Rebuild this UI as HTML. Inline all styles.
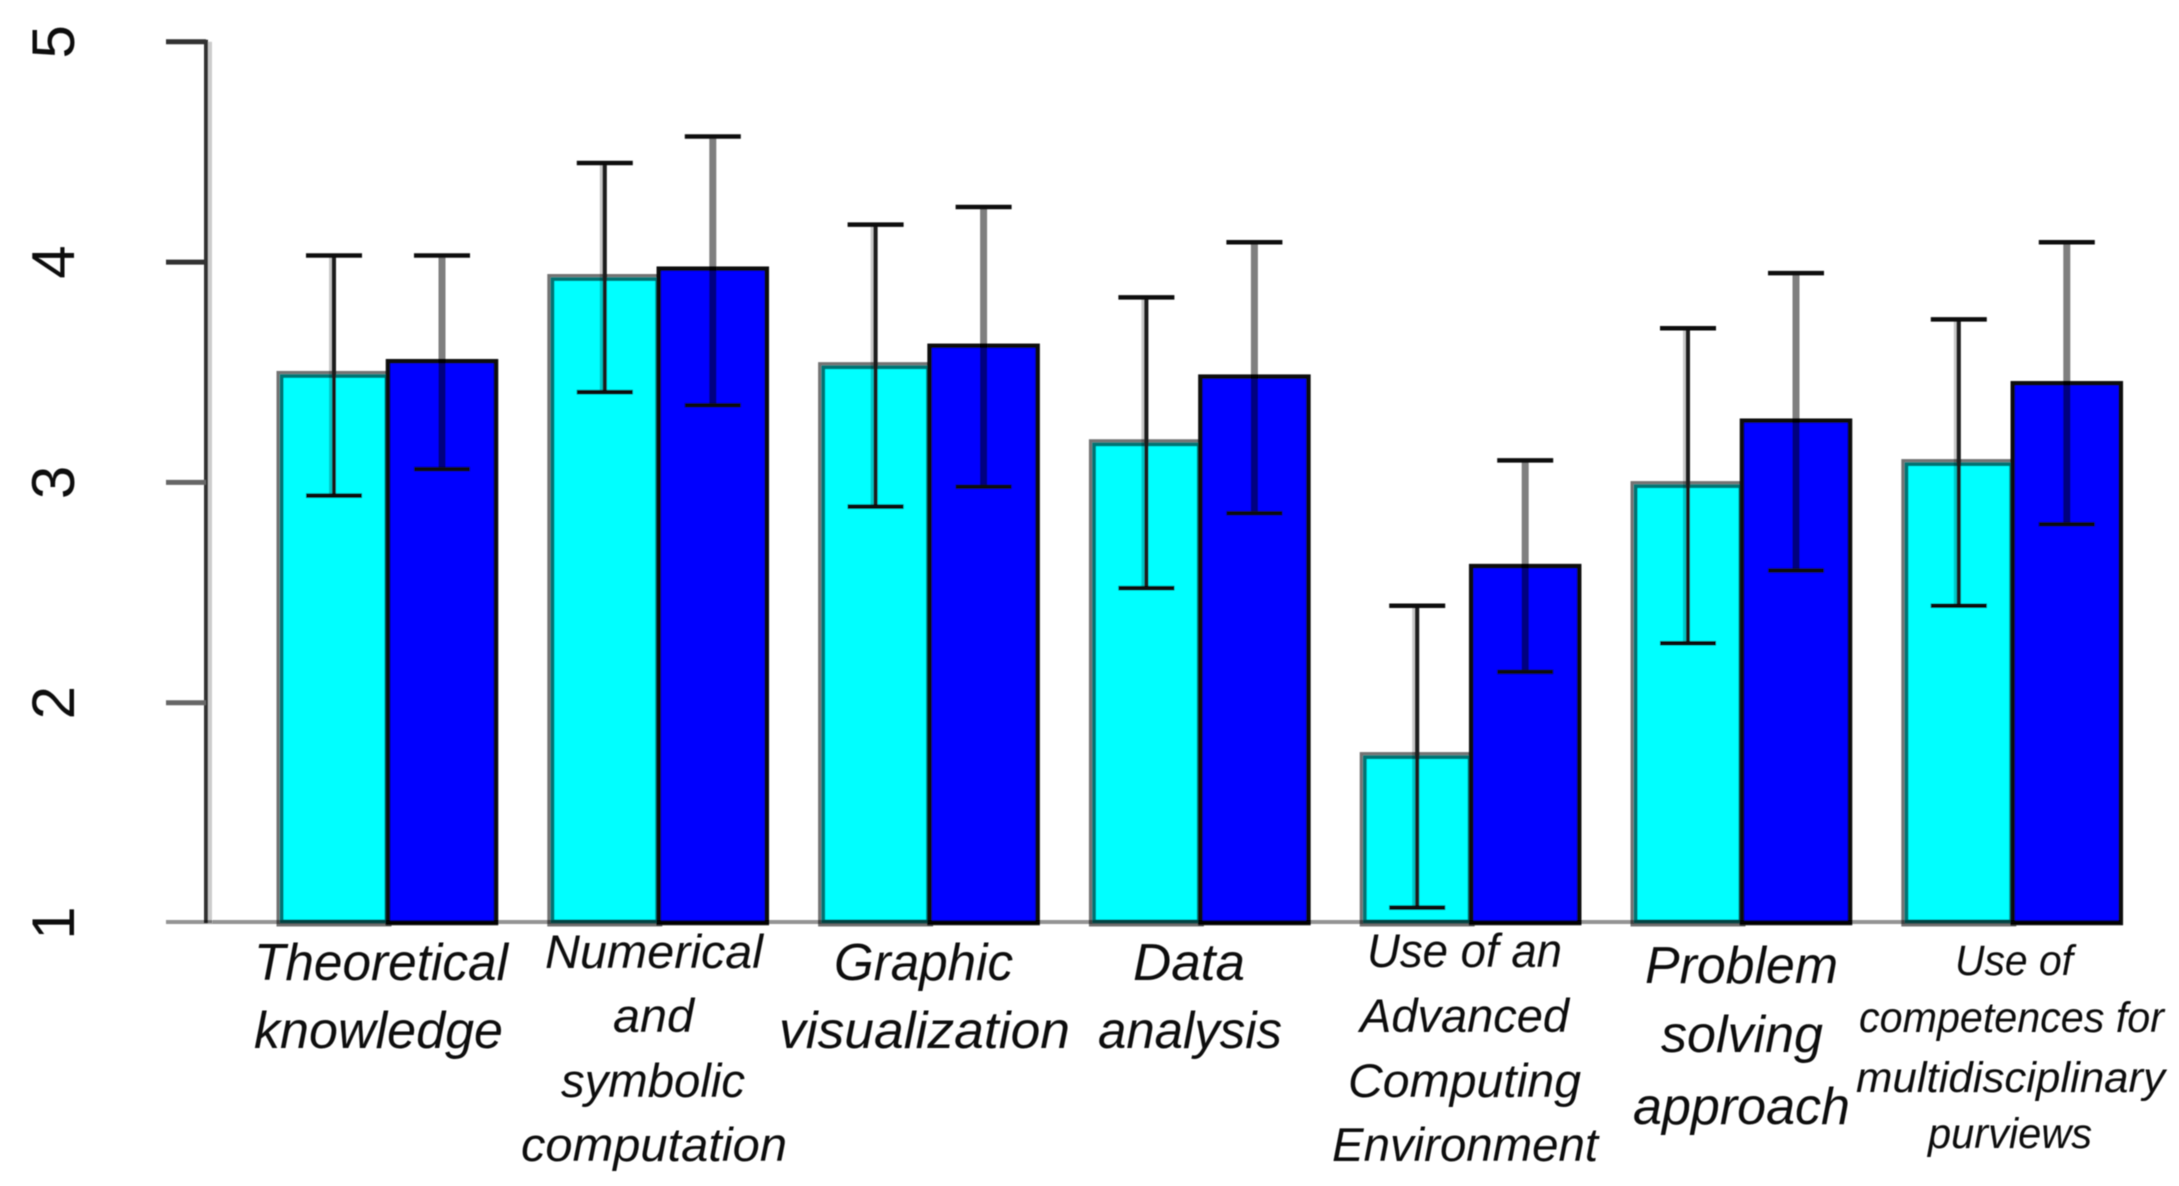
<!DOCTYPE html>
<html lang="en">
<head>
<meta charset="utf-8">
<title>Competence ratings bar chart</title>
<style>
html,body{margin:0;padding:0;background:#fff;width:2179px;height:1186px;overflow:hidden}
svg{display:block}
.cat text{font-family:"Liberation Sans",sans-serif;font-style:italic;fill:#111}
.tick-label{font-family:"Liberation Sans",sans-serif;font-size:60px;fill:#111}
</style>
</head>
<body>
<svg id="chart" xmlns="http://www.w3.org/2000/svg" width="2179" height="1186" viewBox="0 0 2179 1186">
<defs><filter id="soft" x="-2%" y="-2%" width="104%" height="104%"><feGaussianBlur stdDeviation="0.6"/></filter></defs>
<g id="plot" filter="url(#soft)"></g>
<g class="cat" filter="url(#soft)">
  <g font-size="52">
    <text x="254" y="980" textLength="254" lengthAdjust="spacingAndGlyphs">Theoretical</text>
    <text x="254" y="1048" textLength="249" lengthAdjust="spacingAndGlyphs">knowledge</text>
  </g>
  <g font-size="47">
    <text x="545" y="968" textLength="218" lengthAdjust="spacingAndGlyphs">Numerical</text>
    <text x="613" y="1032" textLength="81" lengthAdjust="spacingAndGlyphs">and</text>
    <text x="561" y="1097" textLength="184" lengthAdjust="spacingAndGlyphs">symbolic</text>
    <text x="521" y="1161" textLength="266" lengthAdjust="spacingAndGlyphs">computation</text>
  </g>
  <g font-size="52">
    <text x="834" y="980" textLength="179" lengthAdjust="spacingAndGlyphs">Graphic</text>
    <text x="779" y="1048" textLength="291" lengthAdjust="spacingAndGlyphs">visualization</text>
  </g>
  <g font-size="52">
    <text x="1133" y="980" textLength="112" lengthAdjust="spacingAndGlyphs">Data</text>
    <text x="1098" y="1048" textLength="184" lengthAdjust="spacingAndGlyphs">analysis</text>
  </g>
  <g font-size="47">
    <text x="1367" y="967" textLength="195" lengthAdjust="spacingAndGlyphs">Use of an</text>
    <text x="1360" y="1032" textLength="209" lengthAdjust="spacingAndGlyphs">Advanced</text>
    <text x="1348" y="1097" textLength="233" lengthAdjust="spacingAndGlyphs">Computing</text>
    <text x="1332" y="1161" textLength="266" lengthAdjust="spacingAndGlyphs">Environment</text>
  </g>
  <g font-size="52">
    <text x="1645" y="983" textLength="193" lengthAdjust="spacingAndGlyphs">Problem</text>
    <text x="1661" y="1052" textLength="162" lengthAdjust="spacingAndGlyphs">solving</text>
    <text x="1633" y="1124" textLength="217" lengthAdjust="spacingAndGlyphs">approach</text>
  </g>
  <g font-size="43">
    <text x="1955" y="975" textLength="118" lengthAdjust="spacingAndGlyphs">Use of</text>
    <text x="1859" y="1032" textLength="305" lengthAdjust="spacingAndGlyphs">competences for</text>
    <text x="1856" y="1092" textLength="309" lengthAdjust="spacingAndGlyphs">multidisciplinary</text>
    <text x="1928" y="1148" textLength="164" lengthAdjust="spacingAndGlyphs">purviews</text>
  </g>
</g>
</svg>
<script>
const categories = ["Theoretical knowledge","Numerical and symbolic computation","Graphic visualization","Data analysis","Use of an Advanced Computing Environment","Problem solving approach","Use of competences for multidisciplinary purviews"];
const yTicks = [1,2,3,4,5];
const cyanValues = [3.49,3.93,3.53,3.18,1.76,2.99,3.09];
const blueValues = [3.55,3.97,3.62,3.48,2.62,3.28,3.45];
const cyanUpper = [4.03,4.45,4.17,3.84,2.44,3.70,3.74];
const cyanLower = [2.94,3.41,2.89,2.52,1.07,2.27,2.44];
const blueUpper = [4.03,4.57,4.25,4.09,3.10,3.95,4.09];
const blueLower = [3.06,3.35,2.98,2.86,2.14,2.60,2.81];

const NS = "http://www.w3.org/2000/svg";
const plot = document.getElementById("plot");
const y0 = 923, unit = 220.3, barW = 108, pitch = 270.8, left = 280;
const yScale = v => y0 - (v - 1) * unit;
const barX = (g, s) => left + g * pitch + s * barW;
function make(tag, attrs) {
  const el = document.createElementNS(NS, tag);
  for (const k in attrs) el.setAttribute(k, attrs[k]);
  plot.appendChild(el);
  return el;
}
function seg(x1, y1, x2, y2, stroke, w) {
  return make("line", {x1: x1, y1: y1, x2: x2, y2: y2, stroke: stroke, "stroke-width": w});
}

const axisShade = seg(210, yScale(yTicks[0]), 210, yScale(yTicks[yTicks.length - 1]), "#ccc", 4);



const axisLine = seg(206, y0, 206, yScale(yTicks[yTicks.length - 1]) - 2, "#333", 4);



yTicks.forEach(t => {
  if (t > yTicks[0]) {
    const tick = seg(166, yScale(t), 206, yScale(t), t >= 4 ? "#333" : "#666", 5);
    
    
  }
  const label = make("text", {class: "tick-label", "text-anchor": "middle", transform: "translate(74," + yScale(t) + ") rotate(-90)"});
  label.textContent = t;
  
  
});

categories.forEach((c, g) => {
  const cyan = make("rect", {x: barX(g, 0), y: yScale(cyanValues[g]), width: barW, height: y0 - yScale(cyanValues[g]), fill: "#00ffff", stroke: "rgba(0,0,0,0.55)", "stroke-width": 7});
  
  
  const blue = make("rect", {x: barX(g, 1), y: yScale(blueValues[g]), width: barW, height: y0 - yScale(blueValues[g]), fill: "#0000ff", stroke: "#0a0a0a", "stroke-width": 4.5});
  
  
});

const axisBase = make("rect", {x: 166, y: 920, width: barX(categories.length - 1, 2) - 166, height: 4, fill: "rgba(0,0,0,0.42)"});



categories.forEach((c, g) => {
  const cx1 = barX(g, 0) + barW / 2;
  const cx2 = barX(g, 1) + barW / 2;
  const halo = seg(cx1 - 1.5, yScale(cyanUpper[g]), cx1 - 1.5, yScale(cyanLower[g]), "rgba(0,0,0,0.22)", 7);
  
  
  const stemCyan = seg(cx1, yScale(cyanUpper[g]), cx1, yScale(cyanLower[g]), "#1c1c1c", 4);
  
  
  const stemBlue = seg(cx2, yScale(blueUpper[g]), cx2, yScale(blueLower[g]), "rgba(0,0,0,0.5)", 7);
  
  
  [[cx1, cyanUpper[g], cyanLower[g], "cyan"], [cx2, blueUpper[g], blueLower[g], "blue"]].forEach(e => {
    const capTop = seg(e[0] - 28, yScale(e[1]), e[0] + 28, yScale(e[1]), "#111", 4.5);
    
    
    const capBottom = seg(e[0] - 28, yScale(e[2]), e[0] + 28, yScale(e[2]), "#111", 4.5);
    
    
  });
});
</script>
</body>
</html>
